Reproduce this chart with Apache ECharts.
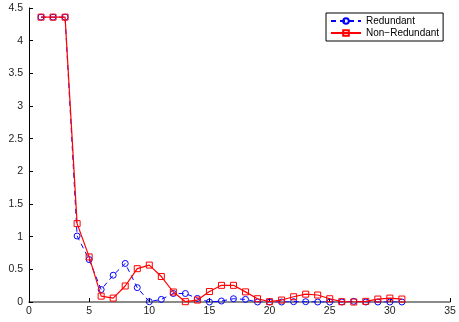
<!DOCTYPE html>
<html><head><meta charset="utf-8">
<script src="https://cdn.jsdelivr.net/npm/echarts@6/dist/echarts.min.js"></script>
<style>html,body{margin:0;padding:0;background:#fff}#c{width:459px;height:322px}</style>
</head><body><div id="c"></div>
<script>
const xValues = [1,2,3,4,5,6,7,8,9,10,11,12,13,14,15,16,17,18,19,20,21,22,23,24,25,26,27,28,29,30,31];
const redundant = [4.36,4.36,4.36,1.01,0.65,0.19,0.41,0.59,0.22,0.005,0.04,0.13,0.13,0.055,0.0,0.015,0.05,0.04,0.0,0.0,0.0,0.005,0.005,0.0,0.0,0.0,0.01,0.0,0.0,0.0,0.0];
const nonRedundant = [4.36,4.36,4.36,1.20,0.69,0.09,0.06,0.245,0.51,0.565,0.39,0.153,0.005,0.03,0.16,0.255,0.255,0.155,0.05,0.005,0.03,0.08,0.12,0.107,0.05,0.005,0.0,0.01,0.045,0.06,0.045];
const seriesNames = ['Redundant','Non\u2212Redundant'];

const chart = echarts.init(document.getElementById('c'), null, {renderer:'canvas'});
const font = 'Liberation Sans, Arial, Helvetica, sans-serif';
chart.setOption({
  animation:false,
  grid:{left:29, right:9, top:8, bottom:20},
  legend:{
    left:326, top:13, orient:'vertical', itemGap:2, itemWidth:30, itemHeight:7,
    padding:[3,4,3,4], borderColor:'#000', borderWidth:1, backgroundColor:'#fff',
    textStyle:{fontFamily:font, fontSize:10, color:'#000'},
    data:seriesNames
  },
  xAxis:{type:'value', min:0, max:35, interval:5,
    axisLine:{onZero:false, lineStyle:{color:'#666', width:1.5}},
    axisTick:{inside:true, length:4, lineStyle:{color:'#000'}},
    axisLabel:{fontFamily:font, fontSize:10.5, color:'#222', margin:4},
    splitLine:{show:false}},
  yAxis:{type:'value', min:0, max:4.5, interval:0.5,
    axisLine:{show:true, lineStyle:{color:'#000', width:1}},
    axisTick:{show:true, inside:true, length:4, lineStyle:{color:'#000'}},
    axisLabel:{fontFamily:font, fontSize:10.5, color:'#222', margin:6},
    splitLine:{show:false}},
  series:[
    {name:seriesNames[0], type:'line', data:xValues.map((x,i)=>[x,redundant[i]]),
      symbol:'circle', symbolSize:6, showSymbol:true,
      lineStyle:{color:'#0000ff', width:1, type:[5,4]},
      itemStyle:{color:'rgba(255,255,255,0)', borderColor:'#0000ff', borderWidth:1}, z:2},
    {name:seriesNames[1], type:'line', data:xValues.map((x,i)=>[x,nonRedundant[i]]),
      symbol:'rect', symbolSize:6, showSymbol:true,
      lineStyle:{color:'#ff0000', width:1.2},
      itemStyle:{color:'rgba(255,255,255,0)', borderColor:'#ff0000', borderWidth:1}, z:3}
  ]
});
</script></body></html>
